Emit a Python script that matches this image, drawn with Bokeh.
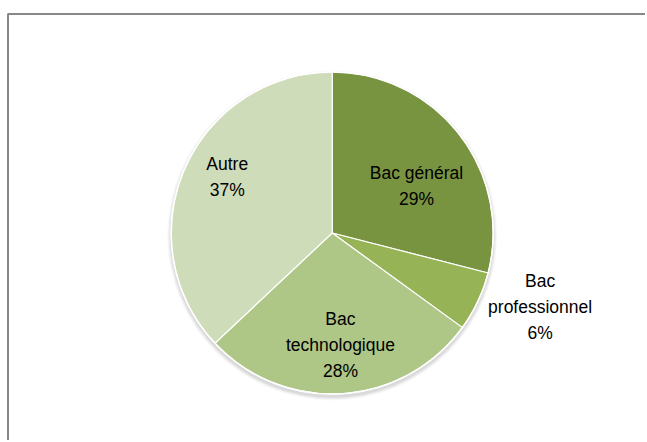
import math
from bokeh.plotting import figure
from bokeh.models import Range1d, ColumnDataSource
from bokeh.core.properties import value
from bokeh.embed import file_html
from bokeh.resources import INLINE

# ---- data ----
categories = ["Bac général", "Bac professionnel", "Bac technologique", "Autre"]
label_names = ["Bac général", "Bac\nprofessionnel", "Bac\ntechnologique", "Autre"]
percent = [29, 6, 28, 37]
colors = ["#789441", "#96B456", "#AEC686", "#CFDCB9"]

# ---- layout / style ----
W, H = 645, 440
OX, OY = 0, 0  # page offset of the figure as observed
# label placement in polar terms (fraction of radius, angle nudge in degrees)
label_rfrac = [0.60, 1.37, 0.70, 0.74]
label_nudge = [-8.5, 5.7, 0.6, -4.8]

p = figure(width=W, height=H, output_backend="svg", toolbar_location=None,
           x_range=Range1d(OX, OX + W), y_range=Range1d(442 - OY - H, 442 - OY),
           min_border=0, outline_line_color=None)
p.axis.visible = False
p.grid.visible = False
p.background_fill_color = "white"
p.border_fill_color = "white"

# chart frame (top and left edges visible in reference)
p.line(x=[7.5, 7.5, 700], y=[-50, 442 - 13.5, 442 - 13.5], line_color="#888888", line_width=2)

cx, cy, R = 331.7, 442 - 232.5, 161

# soft shadow
for dr, a in [(4, 0.05), (3, 0.07), (2, 0.09), (1, 0.12)]:
    p.circle(x=[cx], y=[cy - 2.5], radius=R + dr, radius_units="screen",
             fill_color="#808080", fill_alpha=a, line_color=None)

total = float(sum(percent))
starts, ends = [], []
ang = 90.0
for v in percent:
    span = 360.0 * v / total
    starts.append(math.radians(ang - span))
    ends.append(math.radians(ang))
    ang -= span

src = ColumnDataSource(dict(start=starts, end=ends, color=colors, name=categories))
p.wedge(x=cx, y=cy, radius=R, radius_units="screen", start_angle="start", end_angle="end",
        fill_color="color", line_color="white", line_width=1.2, source=src)
p.circle(x=[cx], y=[cy], radius=R, radius_units="screen", fill_color=None,
         line_color="white", line_width=1.5)

lx, ly, lt = [], [], []
for i, v in enumerate(percent):
    mid = (math.degrees(starts[i]) + math.degrees(ends[i])) / 2 + label_nudge[i]
    r = R * label_rfrac[i]
    lx.append(cx + r * math.cos(math.radians(mid)))
    ly.append(cy + r * math.sin(math.radians(mid)))
    lt.append(f"{label_names[i]}\n{v}%")

p.text(x=lx, y=ly, text=lt, text_align="center", text_baseline="middle",
       text_font=value("Liberation Sans"), text_font_size="17.5px",
       text_color="black", text_line_height=1.3)

open("out.html", "w").write(file_html(p, INLINE))
